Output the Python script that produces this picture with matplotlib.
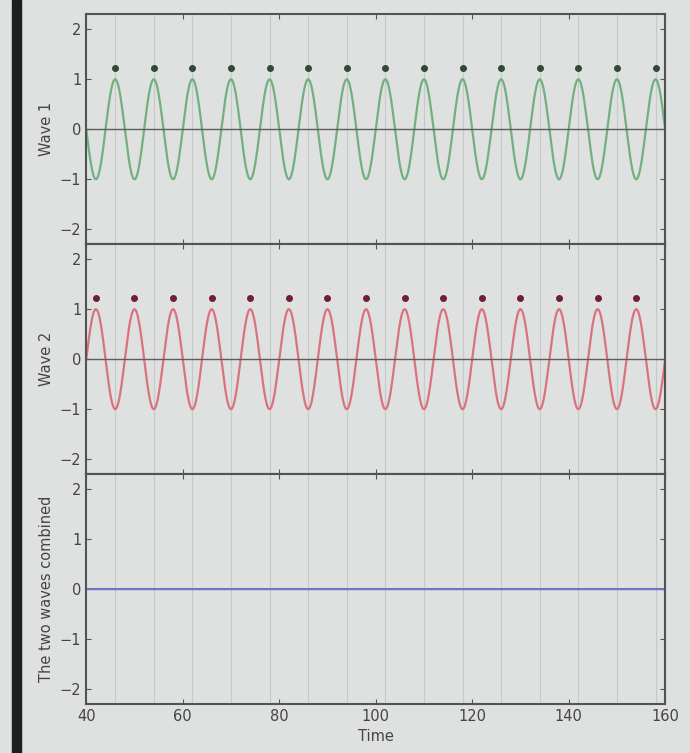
import numpy as np
import matplotlib
matplotlib.use('Agg')
import matplotlib.pyplot as plt
from matplotlib.patches import Rectangle

plt.rcParams['font.family'] = 'DejaVu Sans'
plt.rcParams.update({'font.size': 10.5})

# values
t_range = [40, 160]
period = 8.0
amplitude = 1.0
wave1_peaks = [46, 54, 62, 70, 78, 86, 94, 102, 110, 118, 126, 134, 142, 150, 158]
wave2_peaks = [42, 50, 58, 66, 74, 82, 90, 98, 106, 114, 122, 130, 138, 146, 154]
marker_y = 1.22
y_labels = ['Wave 1', 'Wave 2', 'The two waves combined']
x_ticks = [40, 60, 80, 100, 120, 140, 160]
y_ticks = [-2, -1, 0, 1, 2]

t = np.linspace(t_range[0], t_range[1], 2000)
wave1 = amplitude * np.cos(2 * np.pi * (t - wave1_peaks[0]) / period)
wave2 = amplitude * np.cos(2 * np.pi * (t - wave2_peaks[0]) / period)
combined = wave1 + wave2

bg = '#dfe1e0'
fig, axes = plt.subplots(3, 1, sharex=True, figsize=(6.9, 7.53), dpi=100, facecolor=bg)
fig.subplots_adjust(left=0.125, right=0.964, top=0.981, bottom=0.065, hspace=0)

# dark screen edge on the left of the photo
fig.patches.append(Rectangle((0.018, 0), 0.012, 1, transform=fig.transFigure,
                             color='#1c1f22', zorder=-1))

ax1, ax2, ax3 = axes
ax1.plot(t, wave1, color='#72b07f', lw=1.6)
ax1.plot(wave1_peaks, [marker_y] * len(wave1_peaks), 'o', color='#2e4a36', ms=4)
ax1.axhline(0, color='#5a5f5d', lw=1)

ax2.plot(t, wave2, color='#d8737f', lw=1.6)
ax2.plot(wave2_peaks, [marker_y] * len(wave2_peaks), 'o', color='#6e2030', ms=4)
ax2.axhline(0, color='#5a5f5d', lw=1)

ax3.plot(t, combined, color='#7272c8', lw=1.6)

for ax, lab in zip(axes, y_labels):
    ax.set_facecolor(bg)
    for p in wave1_peaks:
        ax.axvline(p, color='#c6c9c8', lw=0.8, zorder=0)
    ax.set_ylim(-2.3, 2.3)
    ax.set_yticks(y_ticks)
    ax.set_ylabel(lab, color='#444')
    ax.tick_params(direction='in', top=True, right=True, colors='#555', labelcolor='#444')
    for s in ax.spines.values():
        s.set_color('#505553')
        s.set_linewidth(1.5)

ax3.set_xlim(t_range)
ax3.set_xticks(x_ticks)
ax3.set_xlabel('Time', color='#444')

plt.savefig('out.png', dpi=100, facecolor=bg)
